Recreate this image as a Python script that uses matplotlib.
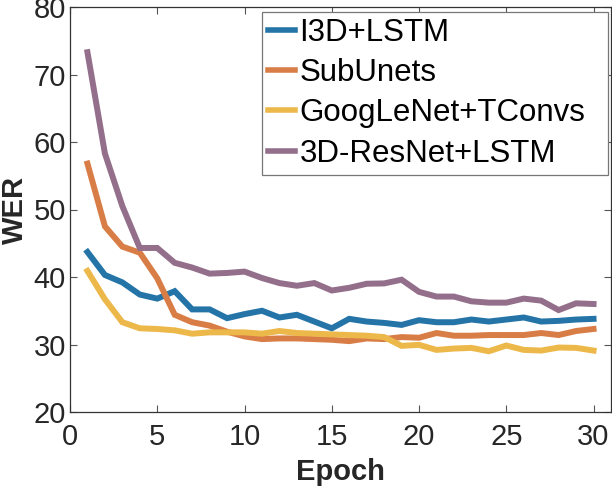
import matplotlib
matplotlib.use("Agg")
import matplotlib.pyplot as plt

epochs = list(range(1, 31))
i3d_lstm = [43.7, 40.3, 39.2, 37.4, 36.8, 37.9, 35.2, 35.2, 33.9, 34.5,
            35.0, 34.0, 34.4, 33.4, 32.4, 33.8, 33.4, 33.2, 32.9, 33.6,
            33.3, 33.3, 33.7, 33.4, 33.7, 34.0, 33.4, 33.5, 33.7, 33.8]
subunets = [56.8, 47.5, 44.5, 43.6, 39.8, 34.4, 33.3, 32.8, 31.9, 31.2,
            30.8, 30.9, 30.9, 30.8, 30.7, 30.5, 30.9, 30.8, 31.1, 31.0,
            31.7, 31.3, 31.3, 31.4, 31.4, 31.4, 31.7, 31.4, 32.0, 32.3]
googlenet = [40.9, 36.7, 33.3, 32.4, 32.3, 32.1, 31.6, 31.8, 31.8, 31.8,
             31.6, 32.0, 31.7, 31.6, 31.5, 31.4, 31.3, 31.1, 29.8, 29.95,
             29.2, 29.4, 29.5, 29.0, 29.85, 29.2, 29.1, 29.55, 29.5, 29.1]
resnet_lstm = [73.3, 58.3, 50.5, 44.3, 44.3, 42.1, 41.4, 40.5, 40.6, 40.8,
               39.85, 39.1, 38.7, 39.1, 38.0, 38.4, 39.0, 39.05, 39.6, 37.8,
               37.1, 37.1, 36.4, 36.2, 36.2, 36.8, 36.5, 35.1, 36.1, 36.0]
labels = ["I3D+LSTM", "SubUnets", "GoogLeNet+TConvs", "3D-ResNet+LSTM"]
colors = ["#2474A8", "#D97D47", "#EDB84A", "#936F8B"]
xticks = [0, 5, 10, 15, 20, 25, 30]
yticks = [20, 30, 40, 50, 60, 70, 80]

plt.rcParams['font.family'] = ['Liberation Sans', 'DejaVu Sans']
fig = plt.figure(figsize=(6.12, 4.92), dpi=100)
ax = fig.add_axes([70/612, 80/492, 541/612, 405/492])

for series, lab, c in zip([i3d_lstm, subunets, googlenet, resnet_lstm], labels, colors):
    ax.plot(epochs, series, color=c, lw=4.3, label=lab, solid_joinstyle='miter')

ax.set_xlim(0, 31)
ax.set_ylim(20, 80)
ax.set_xticks(xticks)
ax.set_yticks(yticks)
ax.tick_params(direction='in', length=5, width=0.8, color='#555555',
               labelsize=21, labelcolor='#262626', top=True, right=True)
ax.tick_params(axis='x', pad=8)
ax.tick_params(axis='y', pad=3)
for s in ax.spines.values():
    s.set_color('#333333')
    s.set_linewidth(0.9)
ax.set_xlabel("Epoch", fontsize=21, fontweight='bold', color='#262626', labelpad=5)
ax.set_ylabel("WER", fontsize=21, fontweight='bold', color='#262626', labelpad=3)

x0 = (262 - 70) / 541
w = (608 - 262) / 541
ytop = (412 - 11.5) / 405
leg = ax.legend(loc='upper left', bbox_to_anchor=(x0, ytop - 0.5, w, 0.5), mode='expand',
                fontsize=22.5, handlelength=0.85, handletextpad=0.15, labelspacing=0.33,
                borderpad=0.2, borderaxespad=0.0, fancybox=False, framealpha=1)
leg.get_frame().set_edgecolor('#777777')
leg.get_frame().set_linewidth(0.9)
for h in leg.get_lines():
    h.set_linewidth(4.0)

fig.savefig("out.png", dpi=100)
